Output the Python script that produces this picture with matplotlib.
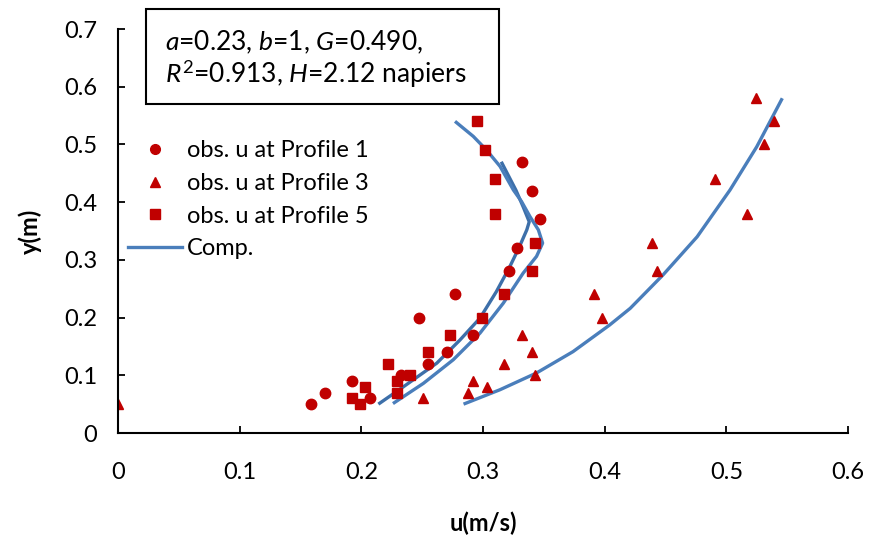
import matplotlib
matplotlib.use("Agg")
import matplotlib.pyplot as plt
from matplotlib.patches import Rectangle
from matplotlib.lines import Line2D

plt.rcParams['font.family'] = ['Lato', 'DejaVu Sans']
plt.rcParams['mathtext.fontset'] = 'custom'
plt.rcParams['mathtext.rm'] = 'Lato'
plt.rcParams['mathtext.it'] = 'Lato:italic'

# observed velocities
u_p1 = [0.159, 0.207, 0.170, 0.192, 0.233, 0.255, 0.270, 0.292, 0.247, 0.277, 0.321, 0.328, 0.347, 0.340, 0.332]
y_p1 = [0.05, 0.06, 0.07, 0.09, 0.10, 0.12, 0.14, 0.17, 0.20, 0.24, 0.28, 0.32, 0.37, 0.42, 0.47]

u_p3 = [0.0, 0.251, 0.288, 0.303, 0.292, 0.343, 0.317, 0.340, 0.332, 0.398, 0.391, 0.443, 0.439, 0.517, 0.491, 0.531, 0.539, 0.524]
y_p3 = [0.05, 0.06, 0.07, 0.08, 0.09, 0.10, 0.12, 0.14, 0.17, 0.20, 0.24, 0.28, 0.33, 0.38, 0.44, 0.50, 0.54, 0.58]

u_p5 = [0.199, 0.192, 0.229, 0.203, 0.229, 0.240, 0.222, 0.255, 0.273, 0.299, 0.317, 0.340, 0.343, 0.310, 0.310, 0.302, 0.295]
y_p5 = [0.05, 0.06, 0.07, 0.08, 0.09, 0.10, 0.12, 0.14, 0.17, 0.20, 0.24, 0.28, 0.33, 0.38, 0.44, 0.49, 0.54]

# computed profiles
uc1 = [0.214, 0.2345, 0.262, 0.281, 0.2975, 0.311, 0.322, 0.330, 0.336, 0.338, 0.333, 0.327, 0.315]
yc1 = [0.050, 0.080, 0.121, 0.161, 0.199, 0.245, 0.288, 0.323, 0.352, 0.366, 0.392, 0.421, 0.470]

uc5 = [0.226, 0.251, 0.2756, 0.2975, 0.3167, 0.333, 0.344, 0.349, 0.3455, 0.3386, 0.3317, 0.325, 0.314, 0.303, 0.292, 0.277]
yc5 = [0.051, 0.086, 0.127, 0.173, 0.225, 0.277, 0.306, 0.329, 0.352, 0.375, 0.401, 0.421, 0.462, 0.490, 0.514, 0.540]

uc3 = [0.284, 0.314, 0.344, 0.374, 0.404, 0.421, 0.448, 0.476, 0.503, 0.525, 0.546]
yc3 = [0.050, 0.075, 0.104, 0.141, 0.187, 0.216, 0.274, 0.340, 0.421, 0.496, 0.580]

red = '#C00000'
blue = '#4A7EBB'

fig = plt.figure(figsize=(8.7, 5.46), dpi=100)
ax = fig.add_axes([118 / 870, 1 - 433 / 546, 730 / 870, 404 / 546])

for uc, yc, col in [(uc1, yc1, '#3D6FA9'), (uc5, yc5, blue), (uc3, yc3, blue)]:
    ax.plot(uc, yc, color=col, lw=2.4, solid_joinstyle='round', solid_capstyle='butt')

ax.plot(u_p1, y_p1, 'o', color=red, ms=7.5, ls='none')
ax.plot(u_p3, y_p3, '^', color=red, ms=7.5, ls='none')
ax.plot(u_p5, y_p5, 's', color=red, ms=7, ls='none')

ax.set_xlim(0, 0.6)
ax.set_ylim(0, 0.7)
ax.set_xticks([0, 0.1, 0.2, 0.3, 0.4, 0.5, 0.6])
ax.set_xticklabels(['0', '0.1', '0.2', '0.3', '0.4', '0.5', '0.6'])
ax.set_yticks([0, 0.1, 0.2, 0.3, 0.4, 0.5, 0.6, 0.7])
ax.set_yticklabels(['0', '0.1', '0.2', '0.3', '0.4', '0.5', '0.6', '0.7'])
ax.spines['top'].set_visible(False)
ax.spines['right'].set_visible(False)
for s in ['left', 'bottom']:
    ax.spines[s].set_linewidth(1.5)
ax.tick_params(direction='in', length=5, width=1.3, labelsize=17)
ax.tick_params(axis='x', pad=21)
ax.tick_params(axis='y', pad=15)

fig.text(483 / 870, 1 - 523 / 546, 'u(m/s)', ha='center', va='center', fontsize=17, fontweight='bold')
fig.text(30 / 870, 1 - 231 / 546, 'y(m)', ha='center', va='center', fontsize=17, fontweight='bold', rotation=90)

handles = [
    Line2D([], [], marker='o', color=red, ls='none', ms=7),
    Line2D([], [], marker='^', color=red, ls='none', ms=7),
    Line2D([], [], marker='s', color=red, ls='none', ms=6.5),
    Line2D([], [], color=blue, lw=2.4),
]
labels = ['obs. u at Profile 1', 'obs. u at Profile 3', 'obs. u at Profile 5', 'Comp.']
ax.legend(handles, labels, loc='upper left', bbox_to_anchor=(128 / 870, 1 - 140 / 546),
          bbox_transform=fig.transFigure, frameon=False, fontsize=17, handlelength=2.3,
          handletextpad=0.2, labelspacing=0.5, borderpad=0, borderaxespad=0)

fig.add_artist(Rectangle((146 / 870, 1 - 104 / 546), 353 / 870, 95 / 546, transform=fig.transFigure,
                         fill=False, edgecolor='black', lw=1.5))
fig.text(165 / 870, 1 - 42 / 546, r'$a$=0.23, $b$=1, $G$=0.490,', ha='left', va='center', fontsize=19)
fig.text(165 / 870, 1 - 74 / 546, r'$R^{2}$=0.913, $H$=2.12 napiers', ha='left', va='center', fontsize=19)

fig.savefig('out.png', dpi=100)
